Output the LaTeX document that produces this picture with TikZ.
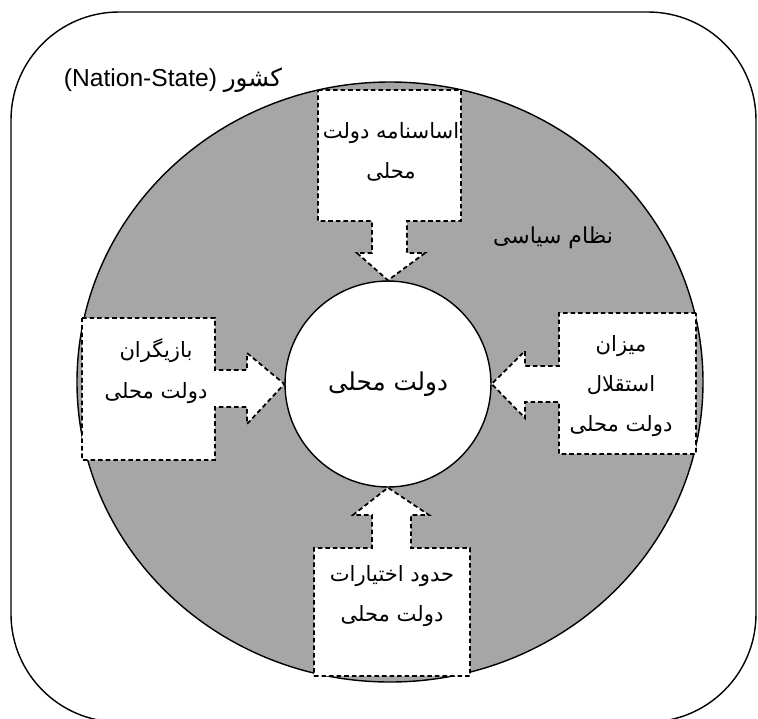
\documentclass[tikz,border=0pt]{standalone}
\usepackage{fontspec}
\setmainfont{Liberation Sans}
\newfontfamily\arabicfont[Script=Arabic]{DejaVu Sans}
\TeXXeTstate=1
\newcommand{\fa}[1]{\beginR #1\endR}
\definecolor{ringgray}{RGB}{166,166,166}

\begin{document}
\begin{tikzpicture}[
		x=0.02cm, y=-0.02cm
		,line width=0.8pt
		,callout/.style={draw, line width=1pt, dash pattern=on 2.6pt off 1.7pt, fill=white, line join=miter}
		,hub/.style={circle, draw, fill=white, minimum size=4.12cm, inner sep=0pt, font=\arabicfont\fontsize{14}{16}\selectfont}
		,lbl/.style={align=center, font=\arabicfont\fontsize{12}{23}\selectfont}
	]
		\useasboundingbox (0,0) rectangle (758,718);
		% country frame
		\draw[rounded corners=2.16cm] (11,12) rectangle (756,722);
		\node[font=\fontsize{14}{16}\selectfont] (country) at (173,80) {\fa{{\arabicfont کشور} \beginL(Nation-State)\endL}};
		% political system
		\draw[fill=ringgray] (390,382) ellipse (313 and 300);
		\node[lbl, font=\arabicfont\fontsize{12.5}{15}\selectfont] (system) at (553,238) {\fa{نظام سیاسی}};
		\node[hub] (local) at (388,384) {\fa{دولت محلی}};
		% arrow boxes
		\draw[callout] (318,90) -| (461,221) -| (407,253) -- (425,253) -- (local.north) -- (357,253) -- (372,253) |- (318,221) -- cycle;
		\draw[callout] (82,318) -| (215,370) -| (247,353) -- (local.west) -- (247,424) |- (215,407) |- (82,460) -- cycle;
		\draw[callout] (696,313) -| (559,366) -| (525,351) -- (local.east) -- (525,418) |- (559,402) |- (696,454) -- cycle;
		\draw[callout] (314,676) -| (470,548) -| (411,515) -- (429,515) -- (local.south) -- (353,515) -- (372,515) |- (314,548) -- cycle;
		\node[lbl] (charter) at (391,152) {\fa{اساسنامه دولت}\\\fa{محلی}};
		\node[lbl] (actors) at (156,371) {\fa{بازیگران}\\\fa{دولت محلی}};
		\node[lbl] (autonomy) at (621,386) {\fa{میزان}\\\fa{استقلال}\\\fa{دولت محلی}};
		\node[lbl] (powers) at (392,596) {\fa{حدود اختیارات}\\\fa{دولت محلی}};
	\end{tikzpicture}
\end{document}
